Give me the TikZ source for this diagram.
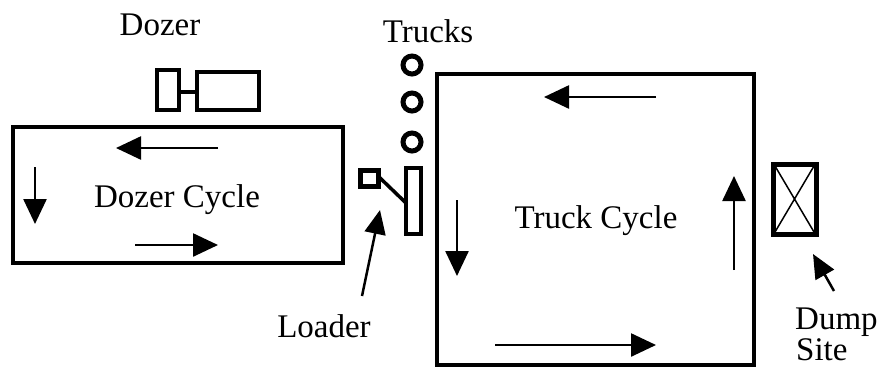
\documentclass[tikz,border=0pt]{standalone}
\usepackage{fontspec}
\setmainfont{Liberation Serif}
\usetikzlibrary{arrows.meta}
\begin{document}
\begin{tikzpicture}[x=1pt,y=-1pt,
  box/.style={draw,line width=4.5pt},
  thin box/.style={draw,line width=4.5pt},
  flow/.style={line width=2.5pt,-{Triangle[length=25pt,width=23pt]}},
  pointer/.style={line width=2.5pt,-{Triangle[length=24pt,width=21pt]}},
  lbl/.style={font=\fontsize{33}{38}\selectfont,inner sep=0pt,anchor=base}]
\useasboundingbox (0,0) rectangle (881,368);
% Dozer cycle
\draw[box] (13,127) rectangle (343,263);
\node[lbl] (dc) at (177,207) {Dozer Cycle};
\coordinate (d1s) at (218,148); \coordinate (d1e) at (116,148);
\coordinate (d2s) at (35,167); \coordinate (d2e) at (35,224);
\coordinate (d3s) at (135,245); \coordinate (d3e) at (218,245);
\draw[flow] (d1s) -- (d1e);
\draw[flow] (d2s) -- (d2e);
\draw[flow] (d3s) -- (d3e);
% Dozer
\node[lbl] (dz) at (160,35) {Dozer};
\draw[thin box] (157,70) rectangle (179,110);
\draw[thin box] (197,72) rectangle (259,110);
\draw[line width=3.5pt] (179,92) -- (197,92);
% Trucks
\node[lbl] (tr) at (428,42) {Trucks};
\foreach \yy in {65,102,142}{\draw[line width=5pt] (412,\yy) circle (9pt);}
% Loader
\draw[line width=5pt] (360,170) rectangle (378,186);
\draw[line width=4pt] (406,168) rectangle (421,234);
\draw[line width=3.5pt] (378,176) -- (406,203);
\node[lbl] (ld) at (324,337) {Loader};
\coordinate (lp) at (362,296); \coordinate (lt) at (380,210);
\draw[pointer] (lp) -- (lt);
% Truck cycle
\draw[box] (437,74) rectangle (754,365);
\node[lbl] (tc) at (596,228) {Truck Cycle};
\coordinate (t1s) at (656,97); \coordinate (t1e) at (544,97);
\coordinate (t2s) at (457,200); \coordinate (t2e) at (457,276);
\coordinate (t3s) at (734,270); \coordinate (t3e) at (734,176);
\coordinate (t4s) at (495,345); \coordinate (t4e) at (656,345);
\draw[flow] (t1s) -- (t1e);
\draw[flow] (t2s) -- (t2e);
\draw[flow] (t3s) -- (t3e);
\draw[flow] (t4s) -- (t4e);
% Dump site
\draw[line width=5pt] (773,164) rectangle (816,234);
\draw[line width=1.5pt] (775,166) -- (814,232) (814,166) -- (775,232);
\node[lbl,anchor=base west] (d1) at (795,329) {Dump};
\node[lbl,anchor=base west] (d2) at (796,360) {Site};
\coordinate (dp) at (834,291); \coordinate (dt) at (813,254);
\draw[pointer] (dp) -- (dt);
\end{tikzpicture}
\end{document}
